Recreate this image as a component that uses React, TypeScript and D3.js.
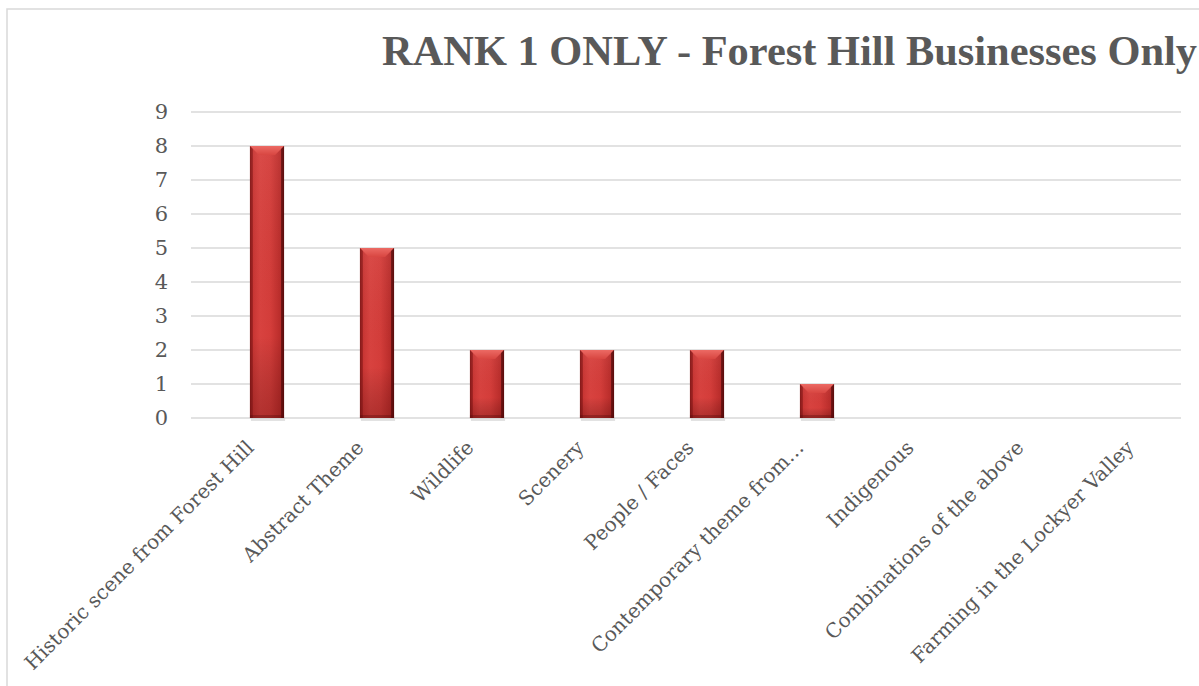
import React from "react";
import * as d3 from "d3";

const categories = [
  "Historic scene from Forest Hill",
  "Abstract Theme",
  "Wildlife",
  "Scenery",
  "People / Faces",
  "Contemporary theme from…",
  "Indigenous",
  "Combinations of the above",
  "Farming in the Lockyer Valley",
];
const values = [8, 5, 2, 2, 2, 1, 0, 0, 0];
const yTicks = [0, 1, 2, 3, 4, 5, 6, 7, 8, 9];
const title = "RANK 1 ONLY - Forest Hill Businesses Only";

const W = 1199;
const H = 686;
const plotLeft = 191;
const plotRight = 1181;
const plotTop = 112;
const plotBottom = 418;
const barShift = 21;

export default function App() {
  const x = d3
    .scaleBand<string>()
    .domain(categories)
    .range([plotLeft, plotRight])
    .paddingInner(0.69)
    .paddingOuter(0.345);
  const y = d3.scaleLinear().domain([0, 9]).range([plotBottom, plotTop]);
  const textColor = "#595959";
  const bw = x.bandwidth();

  return (
    <svg
      width={W}
      height={H}
      style={{ position: "absolute", left: 0, top: 0, background: "#fff" }}
    >
      <defs>
        <linearGradient id="barH" x1="0" x2="1" y1="0" y2="0">
          <stop offset="0%" stopColor="#8e1d1d" />
          <stop offset="7%" stopColor="#c73432" />
          <stop offset="30%" stopColor="#d8423f" />
          <stop offset="60%" stopColor="#d43d3a" />
          <stop offset="90%" stopColor="#b92c2a" />
          <stop offset="100%" stopColor="#6e1111" />
        </linearGradient>
        <linearGradient id="barV" x1="0" x2="0" y1="0" y2="1">
          <stop offset="0%" stopColor="#ffffff" stopOpacity="0.05" />
          <stop offset="70%" stopColor="#000000" stopOpacity="0.0" />
          <stop offset="100%" stopColor="#400000" stopOpacity="0.25" />
        </linearGradient>
        <linearGradient id="bevelTop" x1="0" x2="0" y1="0" y2="1">
          <stop offset="0%" stopColor="#ec6a64" />
          <stop offset="100%" stopColor="#d84641" />
        </linearGradient>
      </defs>

      {/* chart border */}
      <rect
        x={7}
        y={9}
        width={1400}
        height={900}
        fill="#fff"
        stroke="#d9d9d9"
        strokeWidth={1.5}
      />

      {/* title */}
      <text
        x={382}
        y={65}
        fontFamily="'Liberation Serif', serif"
        fontWeight="bold"
        fontSize={42}
        fill={textColor}
        textLength={815}
        lengthAdjust="spacingAndGlyphs"
      >
        {title}
      </text>

      {/* gridlines */}
      {yTicks.map((t) => (
        <line
          key={"g" + t}
          x1={plotLeft}
          x2={plotRight}
          y1={y(t)}
          y2={y(t)}
          stroke="#d9d9d9"
          strokeWidth={1.5}
        />
      ))}

      {/* y tick labels */}
      {yTicks.map((t) => (
        <text
          key={"t" + t}
          x={168}
          y={y(t)}
          dy="0.35em"
          textAnchor="end"
          fontFamily="'DejaVu Serif', serif"
          fontSize={21}
          fill={textColor}
        >
          {t}
        </text>
      ))}

      {/* bars */}
      {categories.map((c, i) => {
        const v = values[i];
        if (v <= 0) return null;
        const x0 = (x(c) as number) + barShift;
        const y0 = y(v);
        const h = y(0) - y0;
        const bev = 9;
        return (
          <g key={"b" + i}>
            <rect
              x={x0 + 1}
              y={plotBottom}
              width={bw}
              height={3}
              fill="#cfcfcf"
              opacity={0.6}
            />
            <rect x={x0} y={y0} width={bw} height={h} fill="url(#barH)" />
            <rect x={x0} y={y0} width={bw} height={h} fill="url(#barV)" />
            <polygon
              points={`${x0},${y0} ${x0 + bw},${y0} ${x0 + bw - bev},${y0 + bev} ${x0 + bev},${y0 + bev}`}
              fill="url(#bevelTop)"
            />
            <polygon
              points={`${x0},${y0} ${x0 + 3},${y0 + 3} ${x0 + 3},${y0 + h} ${x0},${y0 + h}`}
              fill="#7a1414"
              opacity={0.5}
            />
            <polygon
              points={`${x0 + bw},${y0} ${x0 + bw - 3},${y0 + 3} ${x0 + bw - 3},${y0 + h} ${x0 + bw},${y0 + h}`}
              fill="#4d0808"
              opacity={0.6}
            />
            <rect
              x={x0}
              y={y0 + h - 3}
              width={bw}
              height={3}
              fill="#5a0c0c"
              opacity={0.35}
            />
          </g>
        );
      })}

      {/* category labels */}
      {categories.map((c, i) => {
        const cx = (x(c) as number) + bw / 2 + barShift - 17;
        const cy = 444;
        return (
          <text
            key={"c" + i}
            transform={`translate(${cx},${cy}) rotate(-45)`}
            textAnchor="end"
            dy="0.35em"
            fontFamily="'DejaVu Serif', serif"
            fontSize={20}
            fill={textColor}
          >
            {c}
          </text>
        );
      })}
    </svg>
  );
}
